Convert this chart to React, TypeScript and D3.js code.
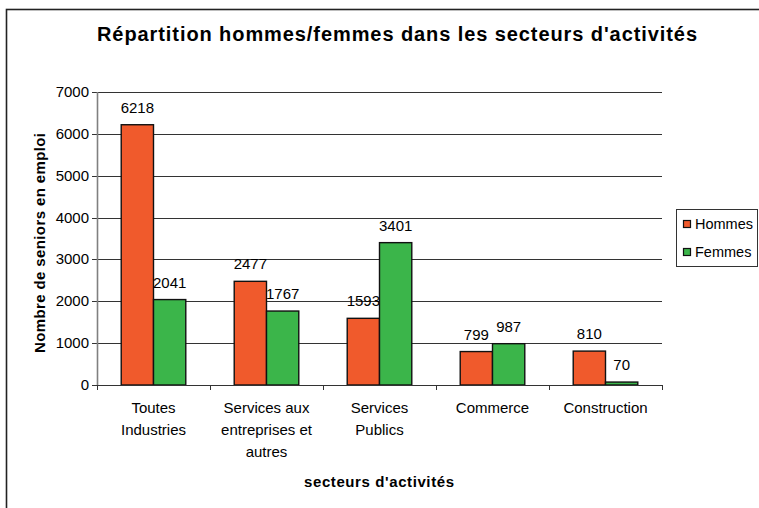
import React from "react";
import * as d3 from "d3";

const categories = ["Toutes Industries", "Services aux entreprises et autres", "Services Publics", "Commerce", "Construction"];
const categoryLines = [["Toutes", "Industries"], ["Services aux", "entreprises et", "autres"], ["Services", "Publics"], ["Commerce"], ["Construction"]];
const seriesNames = ["Hommes", "Femmes"];
const hommes = [6218, 2477, 1593, 799, 810];
const femmes = [2041, 1767, 3401, 987, 70];
const yTicks = [0, 1000, 2000, 3000, 4000, 5000, 6000, 7000];
const colors = ["#F05A2C", "#3BB54A"];

const W = 759, H = 508;
const M = { left: 97, right: 662, top: 92, bottom: 385 };
const FONT = "Liberation Sans, Arial, sans-serif";

export default function App() {
  const x0 = d3.scaleBand<string>().domain(categories).range([M.left, M.right]).padding(0);
  const x1 = d3.scaleBand<string>().domain(seriesNames).range([0, x0.bandwidth()]).paddingInner(0).paddingOuter(0.75);
  const y = d3.scaleLinear().domain([0, 7000]).range([M.bottom, M.top]);
  const values = [hommes, femmes];
  const catEdges = categories.map((c) => x0(c) as number).concat([M.right]);

  return (
    <svg width={W} height={H} style={{ position: "absolute", left: 0, top: 0, background: "#fff" }} fontFamily={FONT}>
      <rect x={6.5} y={9.5} width={770} height={520} fill="#fff" stroke="#222" strokeWidth={1.6} />
      <text x={397} y={41} textAnchor="middle" fontSize={20} fontWeight="bold" textLength={600} lengthAdjust="spacing">
        Répartition hommes/femmes dans les secteurs d'activités
      </text>
      {yTicks.filter((t) => t > 0).map((t) => (
        <line key={t} x1={M.left} x2={M.right} y1={Math.round(y(t)) + 0.5} y2={Math.round(y(t)) + 0.5} stroke="#333" strokeWidth={1} />
      ))}
      {yTicks.map((t) => (
        <g key={"yt" + t}>
          <line x1={M.left - 5} x2={M.left} y1={Math.round(y(t)) + 0.5} y2={Math.round(y(t)) + 0.5} stroke="#333" />
          <text x={M.left - 8} y={y(t) + 5} textAnchor="end" fontSize={15}>{t}</text>
        </g>
      ))}
      {categories.map((c, i) => (
        <g key={c}>
          {seriesNames.map((s, j) => {
            const v = values[j][i];
            const bx = (x0(c) as number) + (x1(s) as number);
            const bw = x1.bandwidth();
            return (
              <g key={s}>
                <rect x={bx} y={y(v)} width={bw} height={M.bottom - y(v)} fill={colors[j]} stroke="#111" strokeWidth={1.4} />
                <text x={bx + bw / 2} y={y(v) - 12} textAnchor="middle" fontSize={15}>{v}</text>
              </g>
            );
          })}
        </g>
      ))}
      <line x1={M.left + 0.5} x2={M.left + 0.5} y1={M.top} y2={M.bottom} stroke="#808080" strokeWidth={1.6} />
      <line x1={M.left} x2={M.right} y1={M.bottom + 0.5} y2={M.bottom + 0.5} stroke="#333" strokeWidth={1.2} />
      {catEdges.map((e, i) => (
        <line key={"xt" + i} x1={Math.round(e) + 0.5} x2={Math.round(e) + 0.5} y1={M.bottom} y2={M.bottom + 5} stroke="#333" />
      ))}
      {categories.map((c, i) => (
        <text key={"cl" + c} textAnchor="middle" fontSize={15}>
          {categoryLines[i].map((l, k) => (
            <tspan key={k} x={(x0(c) as number) + x0.bandwidth() / 2} y={413 + k * 22}>{l}</tspan>
          ))}
        </text>
      ))}
      <text x={379} y={487} textAnchor="middle" fontSize={15} fontWeight="bold" textLength={150} lengthAdjust="spacing">
        secteurs d'activités
      </text>
      <text transform={`translate(45,243) rotate(-90)`} textAnchor="middle" fontSize={15} fontWeight="bold" textLength={220} lengthAdjust="spacing">
        Nombre de seniors en emploi
      </text>
      <rect x={676.5} y={209.5} width={81} height={57} fill="#fff" stroke="#333" strokeWidth={1} />
      {seriesNames.map((s, j) => (
        <g key={"lg" + s}>
          <rect x={683.5} y={220.5 + j * 28} width={7} height={7} fill={colors[j]} stroke="#111" strokeWidth={1.2} />
          <text x={695} y={229 + j * 28} fontSize={14.5}>{s}</text>
        </g>
      ))}
    </svg>
  );
}
